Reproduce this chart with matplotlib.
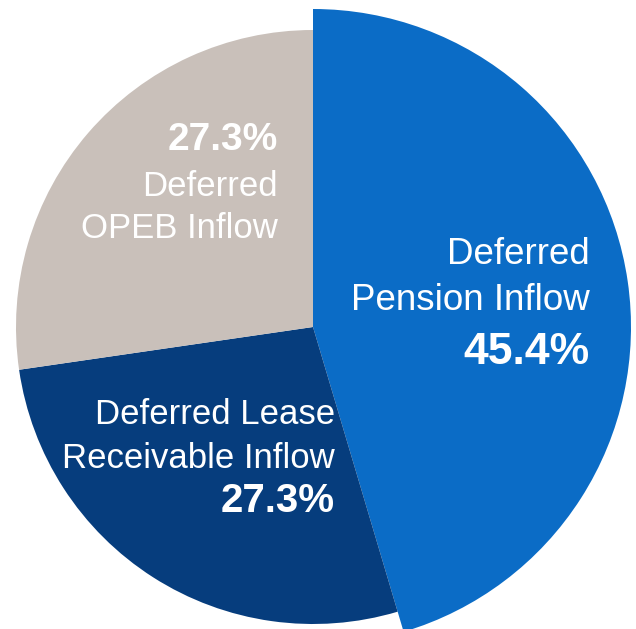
import matplotlib.pyplot as plt

labels = ["Deferred Pension Inflow", "Deferred Lease Receivable Inflow", "Deferred OPEB Inflow"]
shares = [45.4, 27.3, 27.3]
colors = ["#0b6cc6", "#063d7d", "#c9c0ba"]

W, H = 636, 629
fig = plt.figure(figsize=(W / 100, H / 100), dpi=100)
ax = fig.add_axes([0, 0, 1, 1])

wedges, _ = ax.pie(shares, colors=colors, startangle=90, counterclock=False,
                   radius=297, center=(313, H - 327), frame=True,
                   wedgeprops={"linewidth": 0})
# the pension slice sticks out a little past the others
wedges[0].set_radius(318)
ax.set_xlim(0, W)
ax.set_ylim(0, H)
ax.set_aspect("equal")
ax.axis("off")

font = "Liberation Sans"


def label(x, y, s, size, bold=False):
    ax.text(x, H - y, s, ha="right", va="center", color="white", fontsize=size,
            family=font, weight="bold" if bold else "normal")


label(590, 255, "Deferred", 26.5)
label(590, 301, "Pension Inflow", 26.5)
label(590, 352, f"{shares[0]}%", 32, True)

label(278, 140, f"{shares[2]}%", 28, True)
label(278, 186, "Deferred", 25)
label(278, 229, "OPEB Inflow", 25)

label(335, 415, "Deferred Lease", 25)
label(335, 459, "Receivable Inflow", 25)
label(335, 501, f"{shares[1]}%", 29, True)

fig.savefig("out.png")
